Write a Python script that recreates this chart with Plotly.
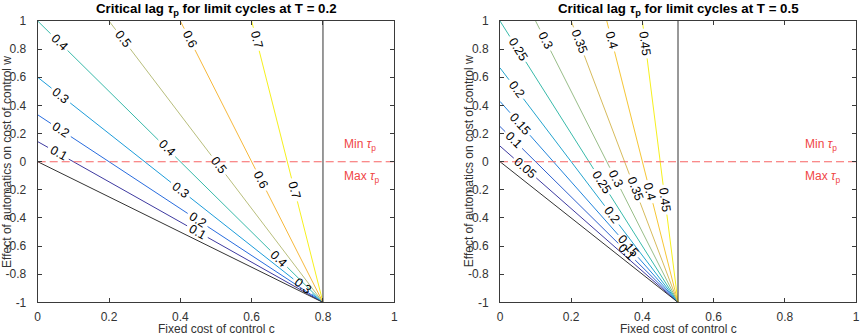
import math
import plotly.graph_objects as go

# ---------------- data ----------------
T_values = [0.2, 0.5]
levels_T02 = [0.1, 0.2, 0.3, 0.4, 0.5, 0.6, 0.7]
levels_T05 = [0.05, 0.1, 0.15, 0.2, 0.25, 0.3, 0.35, 0.4, 0.45]
# c where each contour line crosses w = 0
cross_T02 = [0.1, 0.2, 0.3, 0.4, 0.5, 0.6, 0.7]
cross_T05 = [0.05, 0.1, 0.15, 0.2, 0.25, 0.3, 0.35, 0.4, 0.45]
# w positions of inline contour labels along each line
label_w_T02 = [[0.06, -0.497], [0.225, -0.414], [0.47, -0.2, -0.886],
               [0.85, 0.095, -0.69], [0.87, -0.024], [0.87, -0.13], [0.87, -0.2]]
label_w_T05 = [[-0.045], [0.154, -0.64], [0.268, -0.6], [0.515, -0.38],
               [0.80, -0.142], [0.865, -0.118], [0.855, -0.19], [0.865, -0.213],
               [0.84, -0.27]]
x_ticks = [0, 0.2, 0.4, 0.6, 0.8, 1]
x_ticktext = ["0", "0.2", "0.4", "0.6", "0.8", "1"]
y_ticks = [-1, -0.8, -0.6, -0.4, -0.2, 0, 0.2, 0.4, 0.6, 0.8, 1]
y_ticktext = ["-1", "-0.8", "-0.6", "-0.4", "-0.2", "0", "0.2", "0.4", "0.6", "0.8", "1"]
w_threshold = 0.0
x_range = [0, 1]
y_range = [-1, 1]

# ---------------- layout geometry ----------------
W, H = 864, 336
dom_x = [[37.7 / W, 394.3 / W], [500.0 / W, 856.0 / W]]
dom_y = [(336 - 302.4) / H, (336 - 21.0) / H]
SX = [(d[1] - d[0]) * W for d in dom_x]          # px per unit c
SY = (dom_y[1] - dom_y[0]) * H / 2.0             # px per unit w

anchors = [(0.0, (62, 58, 160)), (1 / 6, (40, 108, 222)), (2 / 6, (28, 156, 218)),
           (3 / 6, (56, 186, 170)), (4 / 6, (184, 190, 124)), (5 / 6, (246, 184, 60)),
           (1.0, (246, 240, 30))]


def parula(t):
    t = min(max(t, 0), 1)
    for (t0, c0), (t1, c1) in zip(anchors[:-1], anchors[1:]):
        if t <= t1:
            f = (t - t0) / (t1 - t0) if t1 > t0 else 0
            c = [round(a + (b - a) * f) for a, b in zip(c0, c1)]
            return "rgb(%d,%d,%d)" % tuple(c)
    return "rgb(%d,%d,%d)" % anchors[-1][1]


fig = go.Figure()
annotations = []
AX_COL = "#3a3a3a"
TXT_COL = "#333333"
RED_TXT = "rgb(240,70,70)"
FONT = "Liberation Sans, Arial, Helvetica, sans-serif"
LAB_SIZE = 12.5

panels = [(T_values[0], levels_T02, cross_T02, label_w_T02),
          (T_values[1], levels_T05, cross_T05, label_w_T05)]

for i, (T, levels, cross, lab_w) in enumerate(panels):
    xa = "x" if i == 0 else "x2"
    ya = "y" if i == 0 else "y2"
    c0 = 1 - T
    n = len(levels)
    for k, (L, cL, lw) in enumerate(zip(levels, cross, lab_w)):
        col = parula(k / (n - 1))
        slope = c0 - cL  # c = c0 - slope*(w+1)
        w_top = min(y_range[1], c0 / slope - 1)
        px_per_w = math.hypot(slope * SX[i], SY)
        txt = ("%g" % L)
        half_gap = (len(txt) * 0.5 * LAB_SIZE + 5) / 2.0 / px_per_w
        cuts = sorted(lw)
        xs, ys = [], []
        start = -1.0
        for wl in cuts:
            a, b = wl - half_gap, wl + half_gap
            if a > start:
                xs += [c0 - slope * (start + 1), c0 - slope * (a + 1), None]
                ys += [start, a, None]
            start = b
        if start < w_top:
            xs += [c0 - slope * (start + 1), c0 - slope * (w_top + 1)]
            ys += [start, w_top]
        fig.add_trace(go.Scatter(x=xs, y=ys, mode="lines", xaxis=xa, yaxis=ya,
                                 line=dict(color=col, width=1), hoverinfo="skip",
                                 showlegend=False))
        ang = math.degrees(math.atan2(SY, slope * SX[i]))
        for wl in cuts:
            annotations.append(dict(x=c0 - slope * (wl + 1), y=wl, xref=xa, yref=ya,
                                    text=txt, showarrow=False, textangle=ang,
                                    font=dict(family=FONT, size=LAB_SIZE, color="black")))
    # boundary: level zero line and vertical line at c0
    fig.add_trace(go.Scatter(x=[0, c0], y=[0, -1], mode="lines", xaxis=xa, yaxis=ya,
                             line=dict(color="#333333", width=1), hoverinfo="skip",
                             showlegend=False))
    fig.add_trace(go.Scatter(x=[c0, c0], y=y_range, mode="lines", xaxis=xa, yaxis=ya,
                             line=dict(color="#333333", width=1), hoverinfo="skip",
                             showlegend=False))
    # dashed threshold
    fig.add_trace(go.Scatter(x=x_range, y=[w_threshold, w_threshold], mode="lines",
                             xaxis=xa, yaxis=ya,
                             line=dict(color="rgb(248,100,100)", width=1.1, dash="8px,4px"),
                             hoverinfo="skip", showlegend=False))
    annotations.append(dict(x=0.852, y=0.12, xref=xa, yref=ya, xanchor="left",
                            yanchor="middle", showarrow=False,
                            text="Min <i>τ</i><sub>p</sub>",
                            font=dict(family=FONT, size=12, color=RED_TXT)))
    annotations.append(dict(x=0.852, y=-0.11, xref=xa, yref=ya, xanchor="left",
                            yanchor="middle", showarrow=False,
                            text="Max <i>τ</i><sub>p</sub>",
                            font=dict(family=FONT, size=12, color=RED_TXT)))
    # title
    xc = (dom_x[i][0] + dom_x[i][1]) / 2
    annotations.append(dict(x=xc, y=1 - 9.0 / H, xref="paper", yref="paper",
                            xanchor="center", yanchor="middle", showarrow=False,
                            text="<b>Critical lag <i>τ</i><sub>p</sub> for limit cycles at T = %g</b>" % T,
                            font=dict(family=FONT, size=13.3, color="black")))
    # axis titles
    annotations.append(dict(x=xc, y=1 - 329.3 / H, xref="paper", yref="paper",
                            xanchor="center", yanchor="middle", showarrow=False,
                            text="Fixed cost of control c",
                            font=dict(family=FONT, size=12, color=TXT_COL)))
    annotations.append(dict(x=(dom_x[i][0] * W - 31.5) / W, y=(dom_y[0] + dom_y[1]) / 2,
                            xref="paper", yref="paper", xanchor="center",
                            yanchor="middle", showarrow=False, textangle=-90,
                            text="Effect of automatics on cost of control w",
                            font=dict(family=FONT, size=12, color=TXT_COL)))

# invisible traces so the overlay (tick-only) axes exist
fig.add_trace(go.Scatter(x=[None], y=[None], xaxis="x3", yaxis="y3", showlegend=False))
fig.add_trace(go.Scatter(x=[None], y=[None], xaxis="x4", yaxis="y4", showlegend=False))

label_axis = dict(showgrid=False, zeroline=False, showline=True, linecolor=AX_COL,
                  linewidth=1, mirror=True, ticks="outside",
                  tickcolor="rgba(0,0,0,0)",
                  tickfont=dict(family=FONT, size=12, color=TXT_COL))
tick_axis = dict(showgrid=False, zeroline=False, showline=False, showticklabels=False,
                 mirror="allticks", ticks="inside", ticklen=4, tickcolor=AX_COL,
                 tickwidth=1)

fig.update_layout(
    width=W, height=H, margin=dict(l=0, r=0, t=0, b=0, autoexpand=False),
    paper_bgcolor="white", plot_bgcolor="white", showlegend=False,
    xaxis=dict(domain=dom_x[0], range=x_range, tickvals=x_ticks, ticktext=x_ticktext,
               anchor="y", ticklen=3, **label_axis),
    yaxis=dict(domain=dom_y, range=y_range, tickvals=y_ticks, ticktext=y_ticktext,
               anchor="x", ticklen=8, **label_axis),
    xaxis2=dict(domain=dom_x[1], range=x_range, tickvals=x_ticks, ticktext=x_ticktext,
                anchor="y2", ticklen=3, **label_axis),
    yaxis2=dict(domain=dom_y, range=y_range, tickvals=y_ticks, ticktext=y_ticktext,
                anchor="x2", ticklen=8, **label_axis),
    xaxis3=dict(domain=dom_x[0], range=x_range, tickvals=x_ticks, anchor="y3",
                overlaying="x", **tick_axis),
    yaxis3=dict(domain=dom_y, range=y_range, tickvals=y_ticks, anchor="x3",
                overlaying="y", **tick_axis),
    xaxis4=dict(domain=dom_x[1], range=x_range, tickvals=x_ticks, anchor="y4",
                overlaying="x2", **tick_axis),
    yaxis4=dict(domain=dom_y, range=y_range, tickvals=y_ticks, anchor="x4",
                overlaying="y2", **tick_axis),
    annotations=annotations,
)

fig.write_html("out.html")
